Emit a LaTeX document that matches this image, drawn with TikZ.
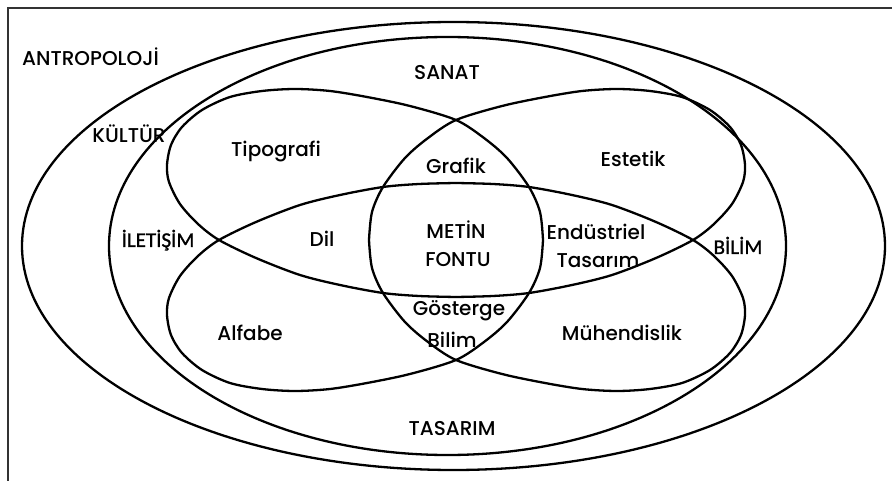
\documentclass[tikz,border=0pt]{standalone}
\usepackage{fontspec}
\setmainfont{Poppins}[UprightFont=* Medium, Ligatures=CommonOff]
\newfontfamily\calfont{Carlito}[FakeBold=1.2]
\begin{document}
\begin{tikzpicture}[x=1pt,y=-1pt,
    ring/.style={line width=2.3pt},
    lbl/.style={font=\fontsize{20}{24}\selectfont, inner sep=0pt, anchor=base},
    cal/.style={font=\calfont\fontsize{21}{25}\selectfont, inner sep=0pt, anchor=base}]
  \useasboundingbox (0,0) rectangle (892,481);
  % frame
  \draw[line width=1.8pt, black!80] (8,481) -- (8,8) -- (892,8);
  % outer ellipses
  \draw[ring] (453.5,246) ellipse [x radius=431.5pt, y radius=224pt];
  \draw[ring] (447.5,246) ellipse [x radius=338.5pt, y radius=209pt];
  % inner figure: one quarter, mirrored four times
  \foreach \sx in {1,-1}
    \foreach \sy in {1,-1}
      \draw[ring, shift={(456,240)}, xscale=\sx, yscale=\sy]
        plot[smooth] coordinates {(0,-57) (-37,-56) (-73,-53) (-116,-45)
          (-156,-35) (-200,-18) (-237,0) (-258,16) (-276,36) (-287,58)
          (-289,75) (-285,95) (-274,113) (-254,130) (-226,143) (-194,149)
          (-161,151) (-126,149) (-89,143) (-46,134) (0,120) (28,102)
          (51,82) (73,53) (84,28) (87,0)};
  % labels
  \node[lbl, anchor=base west] (anthro) at (22,66) {ANTROPOLOJİ};
  \node[lbl] (sanat) at (447,80) {SANAT};
  \node[lbl] (kultur) at (129,143) {KÜLTÜR};
  \node[lbl] (tipo) at (276,157) {Tipografi};
  \node[lbl] (grafik) at (456,174) {Grafik};
  \node[lbl] (estetik) at (633,167) {Estetik};
  \node[cal] (iletisim) at (158,247) {İLETİŞİM};
  \node[lbl] (dil) at (322,247) {Dil};
  \node[lbl] (metin) at (456,239) {METİN};
  \node[lbl] (fontu) at (458,267) {FONTU};
  \node[lbl] (endus) at (596,240) {Endüstriel};
  \node[lbl] (tasa) at (598,268) {Tasarım};
  \node[cal] (bilim) at (738,254) {BİLİM};
  \node[lbl] (alfabe) at (250,340) {Alfabe};
  \node[lbl] (gosterge) at (459,316) {Gösterge};
  \node[lbl] (gbilim) at (452,347) {Bilim};
  \node[lbl] (muhendis) at (622,340) {Mühendislik};
  \node[lbl] (tasarim) at (452,435) {TASARIM};
\end{tikzpicture}
\end{document}
